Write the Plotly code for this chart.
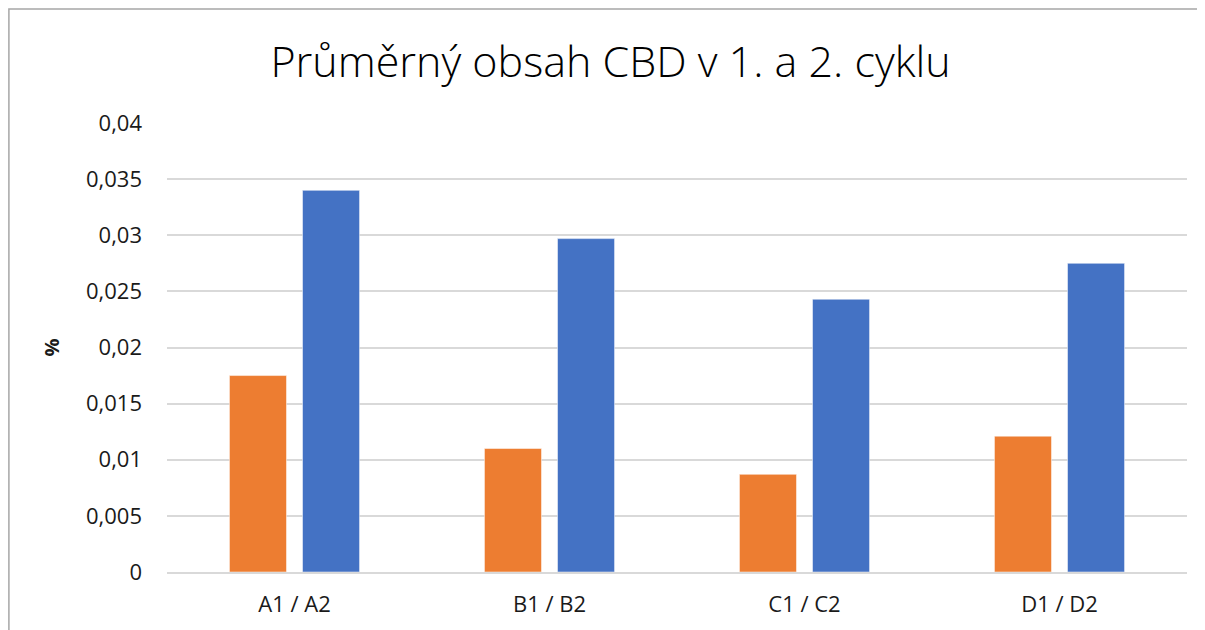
import plotly.graph_objects as go

categories = ["A1 / A2", "B1 / B2", "C1 / C2", "D1 / D2"]
cycle1 = [0.0175, 0.0110, 0.0087, 0.0121]
cycle2 = [0.0340, 0.0297, 0.0243, 0.0275]
title_text = "Průměrný obsah CBD v 1. a 2. cyklu"
y_title = "%"

fig = go.Figure()
fig.add_trace(go.Bar(x=categories, y=cycle1, name="1. cyklus", marker=dict(color="#ED7D31", line=dict(color="white", width=0.5))))
fig.add_trace(go.Bar(x=categories, y=cycle2, name="2. cyklus", marker=dict(color="#4472C4", line=dict(color="white", width=0.5))))

fig.update_layout(
    width=1205, height=630,
    margin=dict(l=159, r=26, t=115, b=66),
    paper_bgcolor="white", plot_bgcolor="white",
    showlegend=False,
    separators=", ",
    bargap=0.427, bargroupgap=0.219,
    font=dict(family="Open Sans, Liberation Sans", color="#1a1a1a"),
    title=dict(text=title_text, x=0.5, xanchor="center", y=0.914, yanchor="middle",
               font=dict(size=43, family="Open Sans", color="#000000", weight=300)),
    xaxis=dict(tickfont=dict(size=22), showgrid=False, showline=True, linecolor="#D9D9D9", linewidth=1.5,
               ticks="", ticklabelstandoff=12),
    yaxis=dict(range=[0, 0.04], dtick=0.005, tick0=0, showgrid=True, gridcolor="#D9D9D9", gridwidth=1.5,
               zeroline=False, tickfont=dict(size=22), ticks="", ticklabelstandoff=24,
               title=dict(text=y_title, font=dict(size=20, weight="bold"), standoff=20)),
    shapes=[dict(type="rect", xref="paper", yref="paper", x0=-0.155, x1=1.0127, y0=-0.14, y1=1.2539,
                 line=dict(color="#A6A6A6", width=1.5), fillcolor="rgba(0,0,0,0)", layer="below")],
)

fig.write_html("out.html")
